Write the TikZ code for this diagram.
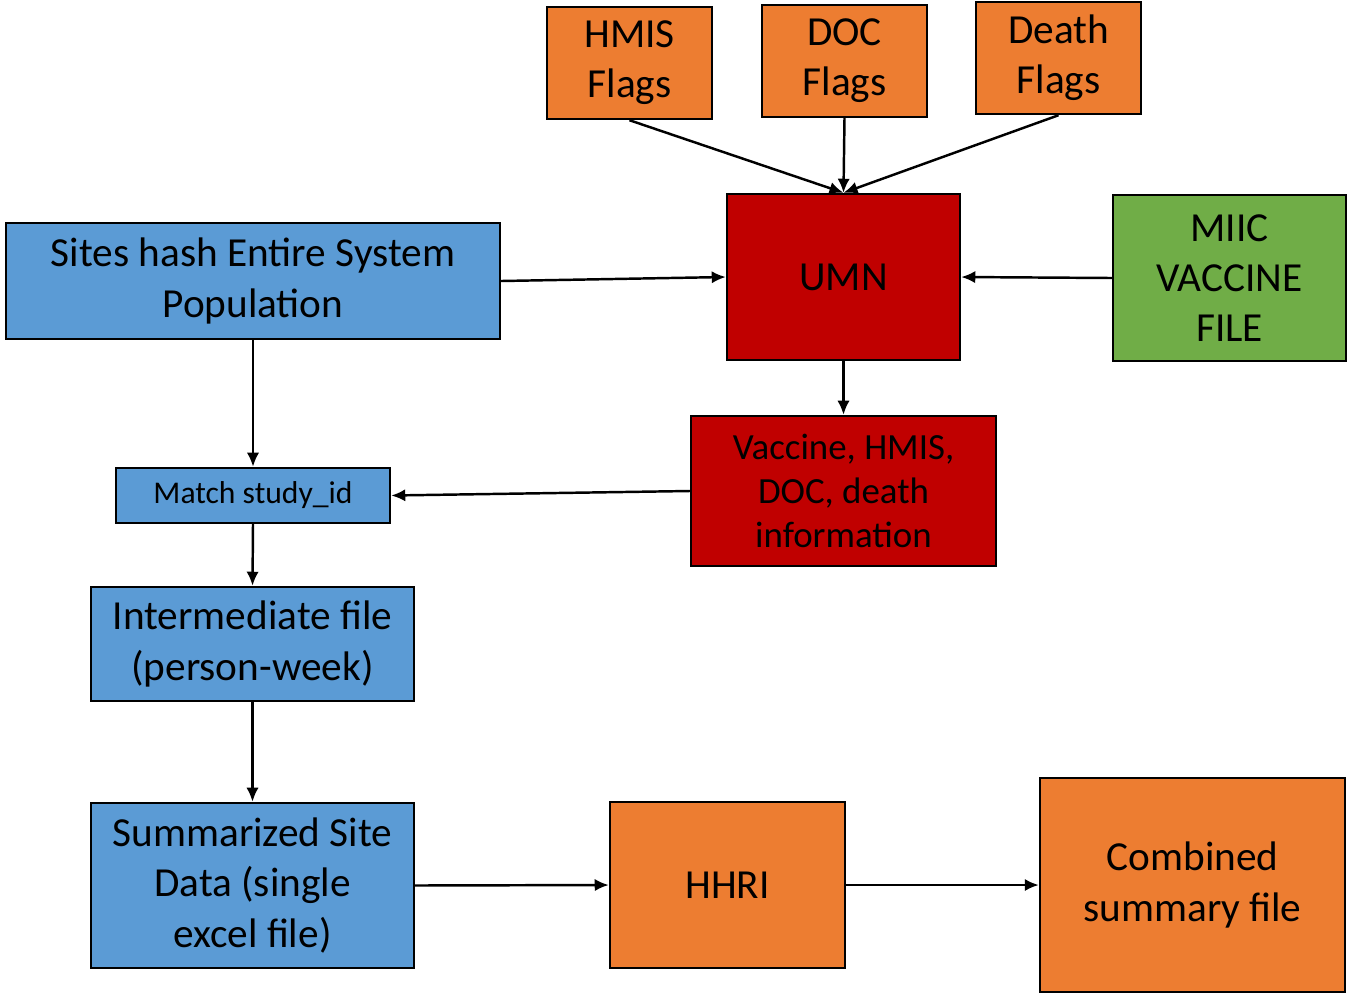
\documentclass[tikz,border=0pt]{standalone}
\usepackage{fontspec}
\setmainfont{Carlito}
\usetikzlibrary{arrows.meta}
\definecolor{boxblue}{HTML}{5B9BD5}
\definecolor{boxorange}{HTML}{ED7D31}
\definecolor{boxred}{HTML}{C00000}
\definecolor{boxgreen}{HTML}{70AD47}
\begin{document}
\begin{tikzpicture}[x=0.02cm, y=-0.02cm,
    box/.style={draw=black, line width=1.4pt, align=center, inner sep=0pt,
      font=\fontsize{23.5}{28.5}\selectfont},
    flow/.style={-{Latex[length=8pt,width=7pt]}, line width=1.4pt}]
    \useasboundingbox (0,0) rectangle (1350,995);
    % sources of flags
    \node[box, fill=boxorange, minimum width=3.3cm, minimum height=2.24cm] (hmis) at (629.5,63) {HMIS\\Flags};
    \node[box, fill=boxorange, minimum width=3.3cm, minimum height=2.24cm] (doc) at (844.5,61) {DOC\\Flags};
    \node[box, fill=boxorange, minimum width=3.3cm, minimum height=2.24cm] (death) at (1058.5,58) {Death\\Flags};
    % linkage
    \node[box, fill=boxred, minimum width=4.66cm, minimum height=3.32cm] (umn) at (843.5,277) {UMN};
    \node[box, fill=boxgreen, minimum width=4.66cm, minimum height=3.32cm] (miic) at (1229.5,278) {MIIC\\VACCINE\\FILE};
    \node[box, fill=boxred, minimum width=6.1cm, minimum height=3.0cm,
      font=\fontsize{21}{25}\selectfont] (vaccine) at (843.5,491) {Vaccine, HMIS,\\DOC, death\\information};
    % site side
    \node[box, fill=boxblue, minimum width=9.88cm, minimum height=2.32cm] (sites) at (253,281) {Sites hash Entire System\\Population};
    \node[box, fill=boxblue, minimum width=5.48cm, minimum height=1.1cm,
      font=\fontsize{18}{21}\selectfont] (match) at (253,495.5) {Match study\_id};
    \node[box, fill=boxblue, minimum width=6.46cm, minimum height=2.28cm] (inter) at (252.5,644) {Intermediate file\\(person-week)};
    \node[box, fill=boxblue, minimum width=6.46cm, minimum height=3.3cm] (summ) at (252.5,885.5) {Summarized Site\\Data (single\\excel file)};
    \node[box, fill=boxorange, minimum width=4.7cm, minimum height=3.32cm] (hhri) at (727.5,885) {HHRI};
    \node[box, fill=boxorange, minimum width=6.1cm, minimum height=4.28cm] (combined) at (1192.5,885) {Combined\\summary file};
    % connectors
    \draw[flow] (hmis.south) -- (umn.north);
    \draw[flow] (doc.south) -- (umn.north);
    \draw[flow] (death.south) -- (umn.north);
    \draw[flow] (sites.east) -- (umn.west);
    \draw[flow] (miic.west) -- (umn.east);
    \draw[flow] (umn.south) -- (vaccine.north);
    \draw[flow] (vaccine.west) -- (match.east);
    \draw[flow] (sites.south) -- (match.north);
    \draw[flow] (match.south) -- (inter.north);
    \draw[flow] (inter.south) -- (summ.north);
    \draw[flow] (summ.east) -- (hhri.west);
    \draw[flow] (hhri.east) -- (combined.west);
\end{tikzpicture}
\end{document}
